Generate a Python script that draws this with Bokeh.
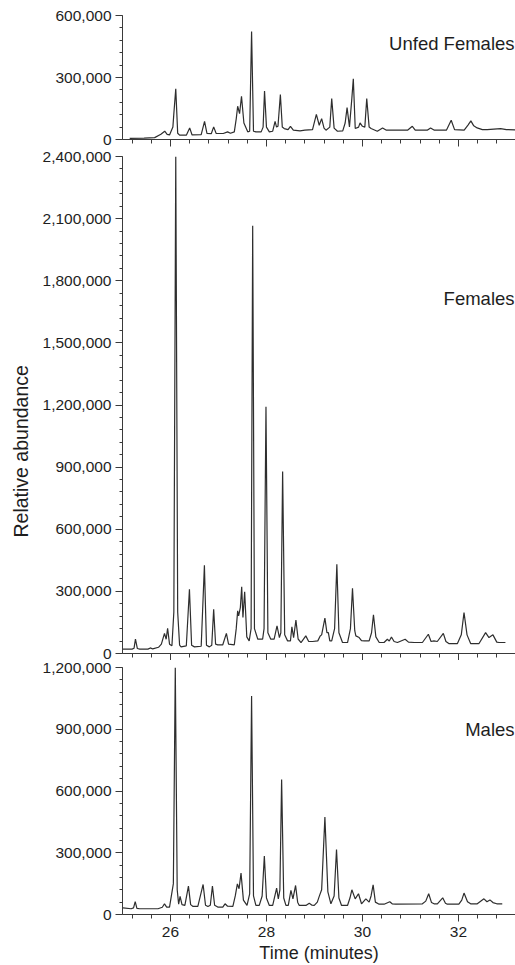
import math
from bokeh.plotting import figure
from bokeh.layouts import column
from bokeh.models import Range1d, SingleIntervalTicker, NumeralTickFormatter, Label, Title
from bokeh.embed import file_html
from bokeh.resources import INLINE

# ---------------- data (time in minutes, relative abundance) ----------------
unfed_females = [
    (25.15, 5000), (25.45, 7000), (25.67, 9000), (25.80, 25000), (25.88, 40000), (25.93, 25000),
    (25.98, 22000), (26.05, 60000), (26.07, 125000), (26.11, 245000), (26.15, 30000), (26.19, 21000),
    (26.33, 21000), (26.40, 56000), (26.45, 22000), (26.64, 24000), (26.71, 88000), (26.76, 30000),
    (26.85, 28000), (26.90, 61000), (26.95, 30000), (27.10, 29000), (27.19, 37000), (27.25, 30000),
    (27.33, 37000), (27.37, 100000), (27.40, 161000), (27.44, 125000), (27.48, 209000), (27.53, 80000),
    (27.61, 37000), (27.65, 40000), (27.69, 523000), (27.73, 40000), (27.78, 37000), (27.89, 37000),
    (27.93, 60000), (27.96, 235000), (28.00, 60000), (28.06, 37000), (28.13, 40000), (28.18, 88000),
    (28.21, 60000), (28.24, 64000), (28.29, 217000), (28.33, 60000), (28.37, 53000), (28.45, 48000),
    (28.50, 64000), (28.56, 45000), (28.70, 42000), (28.80, 45000), (28.96, 48000), (29.04, 122000),
    (29.10, 69000), (29.15, 101000), (29.20, 55000), (29.24, 45000), (29.32, 60000), (29.36, 198000),
    (29.41, 55000), (29.48, 40000), (29.59, 42000), (29.64, 80000), (29.68, 154000), (29.73, 61000),
    (29.78, 200000), (29.81, 294000), (29.85, 53000), (29.92, 60000), (29.95, 80000), (30.00, 64000),
    (30.05, 60000), (30.09, 198000), (30.14, 60000), (30.18, 53000), (30.31, 40000), (30.42, 56000),
    (30.50, 45000), (30.59, 45000), (30.94, 45000), (31.04, 64000), (31.10, 45000), (31.35, 45000),
    (31.42, 56000), (31.50, 45000), (31.75, 45000), (31.85, 93000), (31.92, 48000), (32.12, 45000),
    (32.20, 70000), (32.26, 90000), (32.32, 66000), (32.39, 56000), (32.50, 48000), (32.60, 48000),
    (32.88, 53000), (33.00, 48000), (33.19, 47000),
]

females = [
    (25.01, 21000), (25.20, 21000), (25.24, 25000), (25.27, 69000), (25.31, 24000), (25.36, 21000),
    (25.53, 21000), (25.58, 27000), (25.63, 22000), (25.75, 30000), (25.81, 45000), (25.875, 97000),
    (25.91, 69000), (25.94, 122000), (25.98, 45000), (26.03, 37000), (26.07, 200000), (26.11, 2400000),
    (26.15, 200000), (26.19, 40000), (26.22, 32000), (26.33, 37000), (26.395, 310000), (26.44, 40000),
    (26.50, 32000), (26.64, 35000), (26.707, 426000), (26.75, 40000), (26.81, 32000), (26.86, 40000),
    (26.90, 214000), (26.94, 45000), (26.985, 42000), (27.09, 42000), (27.165, 97000), (27.21, 45000),
    (27.33, 42000), (27.37, 120000), (27.40, 206000), (27.42, 182000), (27.456, 222000), (27.484, 322000),
    (27.51, 174000), (27.546, 298000), (27.59, 80000), (27.64, 61000), (27.68, 120000), (27.713, 2066000),
    (27.75, 120000), (27.82, 69000), (27.92, 69000), (27.95, 120000), (27.99, 1192000), (28.03, 100000),
    (28.09, 69000), (28.16, 69000), (28.22, 134000), (28.27, 77000), (28.30, 100000), (28.337, 879000),
    (28.38, 90000), (28.44, 61000), (28.50, 61000), (28.53, 129000), (28.566, 77000), (28.614, 161000),
    (28.66, 70000), (28.72, 53000), (28.82, 85000), (28.88, 58000), (28.96, 58000), (29.07, 61000),
    (29.12, 85000), (29.15, 90000), (29.218, 171000), (29.26, 101000), (29.29, 101000), (29.32, 61000),
    (29.36, 61000), (29.42, 120000), (29.467, 431000), (29.51, 100000), (29.585, 53000), (29.69, 53000),
    (29.75, 120000), (29.793, 315000), (29.84, 110000), (29.863, 85000), (29.932, 77000), (29.98, 62000),
    (30.04, 61000), (30.14, 61000), (30.19, 100000), (30.23, 187000), (30.28, 80000), (30.35, 53000),
    (30.45, 53000), (30.52, 69000), (30.56, 60000), (30.605, 80000), (30.66, 58000), (30.73, 53000),
    (30.89, 69000), (30.96, 55000), (31.08, 53000), (31.25, 53000), (31.374, 93000), (31.43, 58000),
    (31.49, 61000), (31.56, 58000), (31.686, 97000), (31.74, 58000), (31.80, 48000), (31.98, 48000),
    (32.06, 90000), (32.117, 198000), (32.18, 90000), (32.255, 48000), (32.43, 48000), (32.567, 101000),
    (32.637, 77000), (32.72, 90000), (32.80, 55000), (32.845, 53000), (32.98, 53000),
]

males = [
    (25.01, 32000), (25.18, 28000), (25.23, 32000), (25.265, 63000), (25.30, 30000), (25.36, 28000),
    (25.74, 28000), (25.83, 35000), (25.875, 52000), (25.92, 36000), (25.98, 36000), (26.06, 150000),
    (26.10, 1200000), (26.14, 120000), (26.17, 50000), (26.20, 88000), (26.24, 48000), (26.30, 44000),
    (26.374, 138000), (26.42, 48000), (26.47, 39000), (26.57, 39000), (26.68, 146000), (26.73, 45000),
    (26.78, 39000), (26.83, 45000), (26.874, 138000), (26.92, 45000), (26.985, 36000), (27.09, 36000),
    (27.137, 52000), (27.19, 40000), (27.30, 39000), (27.35, 90000), (27.394, 149000), (27.429, 125000),
    (27.47, 201000), (27.52, 70000), (27.595, 44000), (27.65, 100000), (27.69, 1062000), (27.73, 90000),
    (27.78, 44000), (27.85, 44000), (27.91, 90000), (27.956, 284000), (28.00, 80000), (28.06, 44000),
    (28.13, 44000), (28.212, 128000), (28.247, 76000), (28.28, 120000), (28.316, 656000), (28.36, 80000),
    (28.406, 44000), (28.455, 44000), (28.51, 117000), (28.552, 76000), (28.607, 141000), (28.65, 60000),
    (28.684, 44000), (28.822, 44000), (28.892, 55000), (28.95, 45000), (28.996, 44000), (29.06, 60000),
    (29.10, 88000), (29.15, 120000), (29.218, 473000), (29.28, 110000), (29.343, 52000), (29.41, 90000),
    (29.46, 316000), (29.51, 80000), (29.565, 44000), (29.689, 44000), (29.74, 80000), (29.78, 120000),
    (29.849, 76000), (29.918, 101000), (29.981, 52000), (30.071, 76000), (30.14, 60000), (30.18, 90000),
    (30.223, 144000), (30.27, 60000), (30.348, 50000), (30.452, 50000), (30.57, 62000), (30.62, 52000),
    (30.695, 50000), (31.25, 52000), (31.32, 65000), (31.381, 101000), (31.44, 58000), (31.492, 52000),
    (31.562, 52000), (31.673, 81000), (31.73, 55000), (31.77, 50000), (32.01, 50000), (32.07, 70000),
    (32.117, 104000), (32.19, 62000), (32.255, 52000), (32.394, 52000), (32.533, 76000), (32.595, 62000),
    (32.657, 71000), (32.72, 58000), (32.80, 52000), (32.914, 52000),
]

panel_titles = ["Unfed Females", "Females", "Males"]
panel_ymax = [600000, 2400000, 1200000]
y_tick_step = 300000
x_tick_step = 2
x_min, x_max = 25.0, 33.19
x_axis_title = "Time (minutes)"
y_axis_title = "Relative abundance"

# ---------------- styling ----------------
FONT = "Liberation Sans"
INK = "#1e1e1e"
AXIS = "#3a3a3a"
TRACE = "#2e2e2e"
W = 515
LEFT = 121

x_range = Range1d(x_min, x_max)


def make_panel(series, ymax, frame_h, top, bottom, show_x_labels):
    p = figure(width=W, height=top + frame_h + bottom, x_range=x_range,
               y_range=Range1d(0, ymax), output_backend="svg", toolbar_location=None,
               min_border_left=LEFT, min_border_right=0,
               min_border_top=top, min_border_bottom=bottom)
    p.outline_line_color = None
    p.grid.visible = False
    p.background_fill_color = "white"
    p.border_fill_color = "white"

    t = [a for a, _ in series]
    v = [b for _, b in series]
    p.line(t, v, line_color=TRACE, line_width=1.2)

    xa = p.xaxis[0]
    xa.ticker = SingleIntervalTicker(interval=x_tick_step, num_minor_ticks=5)
    xa.axis_line_color = AXIS
    xa.major_tick_line_color = AXIS
    xa.minor_tick_line_color = AXIS
    xa.major_tick_in = 0
    xa.major_tick_out = 7
    xa.minor_tick_in = 0
    xa.minor_tick_out = 4
    if show_x_labels:
        xa.major_label_text_font = FONT
        xa.major_label_text_font_size = "15.5px"
        xa.major_label_text_color = INK
        xa.major_label_standoff = 5
        xa.axis_label = x_axis_title
        xa.axis_label_text_font = FONT
        xa.axis_label_text_font_size = "18px"
        xa.axis_label_text_font_style = "normal"
        xa.axis_label_text_color = INK
        xa.axis_label_standoff = 3
    else:
        xa.major_label_text_color = None
        xa.major_label_text_font_size = "0px"
        xa.major_label_standoff = 0

    ya = p.yaxis[0]
    ya.ticker = SingleIntervalTicker(interval=y_tick_step, num_minor_ticks=5)
    ya.formatter = NumeralTickFormatter(format="0,0")
    ya.axis_line_color = AXIS
    ya.major_tick_line_color = AXIS
    ya.minor_tick_line_color = AXIS
    ya.major_tick_in = 0
    ya.major_tick_out = 7
    ya.minor_tick_in = 0
    ya.minor_tick_out = 3
    ya.major_label_text_font = FONT
    ya.major_label_text_font_size = "15.5px"
    ya.major_label_text_color = INK
    ya.major_label_standoff = 4
    return p


p1 = make_panel(unfed_females, panel_ymax[0], 124, 15, 8, False)
p2 = make_panel(females, panel_ymax[1], 497, 9, 7, False)
p3 = make_panel(males, panel_ymax[2], 247, 7, 51, True)


def title(p, text, y):
    p.add_layout(Label(x=x_max - 0.02, y=y, text=text, text_align="right",
                       text_baseline="middle", text_font=FONT,
                       text_font_size="18.5px", text_color=INK))


title(p1, panel_titles[0], 465000)
title(p2, panel_titles[1], 1713000)
title(p3, panel_titles[2], 900000)

p2.add_layout(Title(text=y_axis_title, align="left", offset=116, standoff=15,
                    text_font=FONT, text_font_size="19.5px", text_font_style="normal",
                    text_color=INK), "left")

layout = column(p1, p2, p3, spacing=0)

open("out.html", "w").write(file_html(layout, INLINE))
